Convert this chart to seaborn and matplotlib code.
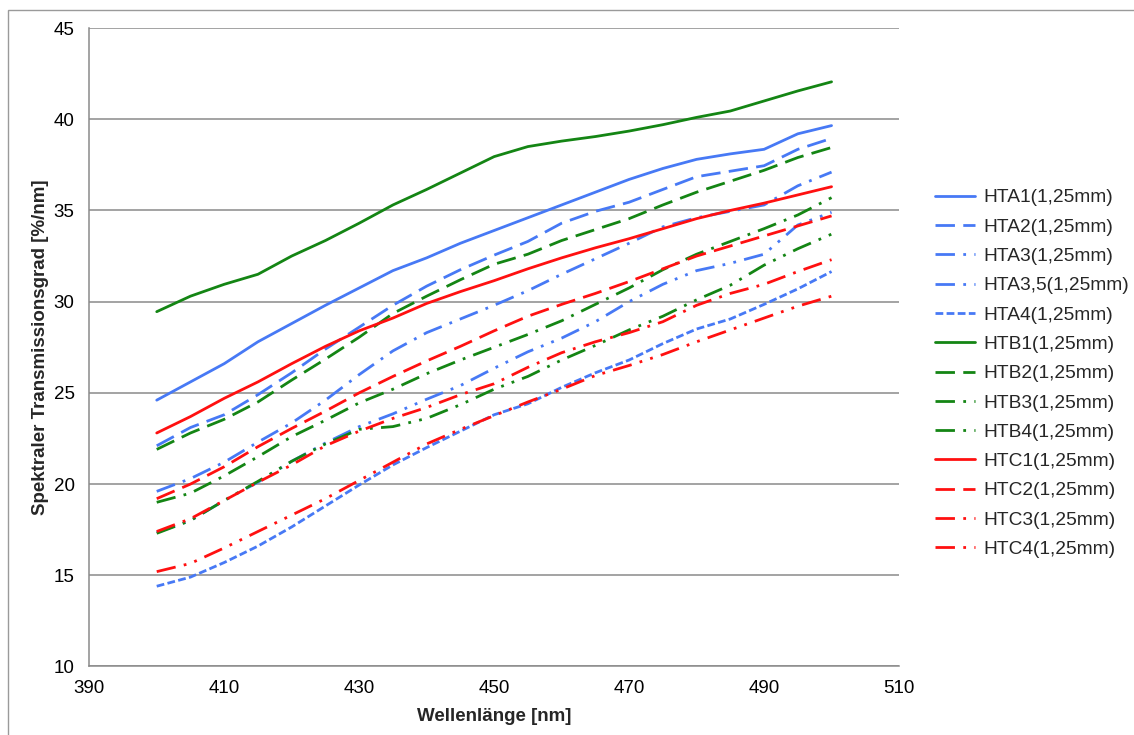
import numpy as np
import pandas as pd
import matplotlib
matplotlib.use("Agg")
import matplotlib.pyplot as plt
from matplotlib.patches import Rectangle
import seaborn as sns

# ---------------- data ----------------
wavelength = [400, 405, 410, 415, 420, 425, 430, 435, 440, 445, 450,
              455, 460, 465, 470, 475, 480, 485, 490, 495, 500]

HTA1 = [24.6, 25.6, 26.6, 27.8, 28.8, 29.8, 30.75, 31.7, 32.4, 33.2, 33.9,
        34.6, 35.3, 36.0, 36.7, 37.3, 37.8, 38.1, 38.35, 39.2, 39.65]
HTA2 = [22.1, 23.1, 23.8, 24.9, 26.1, 27.4, 28.6, 29.8, 30.85, 31.75, 32.55,
        33.3, 34.3, 34.95, 35.45, 36.15, 36.85, 37.15, 37.45, 38.35, 38.95]
HTA3 = [19.6, 20.3, 21.2, 22.3, 23.35, 24.6, 26.0, 27.3, 28.3, 29.05, 29.8,
        30.6, 31.5, 32.35, 33.2, 34.1, 34.6, 34.95, 35.3, 36.35, 37.1]
HTA35 = [17.35, 18.0, 19.1, 20.1, 21.25, 22.25, 23.15, 23.85, 24.65, 25.4, 26.35,
         27.25, 28.0, 28.9, 30.0, 30.95, 31.7, 32.1, 32.6, 34.2, 34.9]
HTA4 = [14.4, 14.9, 15.7, 16.6, 17.65, 18.8, 19.95, 21.05, 22.0, 22.9, 23.8,
        24.4, 25.3, 26.1, 26.8, 27.7, 28.5, 29.05, 29.85, 30.7, 31.65]
HTB1 = [29.45, 30.3, 30.95, 31.5, 32.5, 33.35, 34.3, 35.3, 36.15, 37.05, 37.95,
        38.5, 38.8, 39.05, 39.35, 39.7, 40.1, 40.45, 41.0, 41.55, 42.05]
HTB2 = [21.9, 22.8, 23.55, 24.5, 25.7, 26.85, 28.05, 29.35, 30.3, 31.2, 32.05,
        32.6, 33.35, 33.95, 34.55, 35.3, 36.0, 36.6, 37.2, 37.9, 38.45]
HTB3 = [19.0, 19.5, 20.45, 21.5, 22.6, 23.5, 24.45, 25.2, 26.05, 26.8, 27.5,
        28.2, 28.95, 29.85, 30.75, 31.75, 32.6, 33.3, 34.0, 34.75, 35.7]
HTB4 = [17.3, 18.0, 19.1, 20.15, 21.25, 22.2, 23.0, 23.15, 23.6, 24.35, 25.2,
        25.9, 26.8, 27.6, 28.45, 29.2, 30.1, 30.9, 32.0, 32.9, 33.7]
HTC1 = [22.8, 23.7, 24.7, 25.6, 26.6, 27.55, 28.4, 29.1, 29.9, 30.55, 31.15,
        31.8, 32.4, 32.95, 33.45, 34.0, 34.55, 35.0, 35.4, 35.85, 36.3]
HTC2 = [19.2, 20.0, 20.95, 22.05, 23.05, 24.0, 25.0, 25.9, 26.75, 27.55, 28.4,
        29.2, 29.85, 30.45, 31.1, 31.8, 32.5, 33.05, 33.6, 34.15, 34.7]
HTC3 = [17.4, 18.1, 19.1, 20.1, 21.05, 22.1, 22.9, 23.6, 24.2, 24.9, 25.5,
        26.4, 27.2, 27.8, 28.3, 28.9, 29.8, 30.45, 30.95, 31.65, 32.3]
HTC4 = [15.2, 15.65, 16.5, 17.4, 18.3, 19.2, 20.2, 21.2, 22.2, 23.0, 23.75,
        24.5, 25.2, 25.95, 26.5, 27.1, 27.8, 28.45, 29.1, 29.75, 30.3]

series_names = ["HTA1(1,25mm)", "HTA2(1,25mm)", "HTA3(1,25mm)", "HTA3,5(1,25mm)",
                "HTA4(1,25mm)", "HTB1(1,25mm)", "HTB2(1,25mm)", "HTB3(1,25mm)",
                "HTB4(1,25mm)", "HTC1(1,25mm)", "HTC2(1,25mm)", "HTC3(1,25mm)",
                "HTC4(1,25mm)"]
series_values = [HTA1, HTA2, HTA3, HTA35, HTA4, HTB1, HTB2, HTB3, HTB4,
                 HTC1, HTC2, HTC3, HTC4]

x_ticks = [390, 410, 430, 450, 470, 490, 510]
y_ticks = [10, 15, 20, 25, 30, 35, 40, 45]

# ---------------- styles ----------------
BLUE = "#4779f5"
GREEN = "#148514"
RED = "#ff1010"
solid = ""
long_dash = (7, 3)
dash_dot = (7, 3, 1, 3)
dash_dot_dot = (7, 3, 1, 3, 1, 3)
short_dash = (2.8, 1.2)

colors = [BLUE] * 5 + [GREEN] * 4 + [RED] * 4
dash_list = [solid, long_dash, dash_dot, dash_dot_dot, short_dash,
             solid, long_dash, dash_dot, dash_dot_dot,
             solid, long_dash, dash_dot, dash_dot_dot]
palette = dict(zip(series_names, colors))
dashes = dict(zip(series_names, dash_list))

rows = []
for name, vals in zip(series_names, series_values):
    for w, v in zip(wavelength, vals):
        rows.append({"Wellenlänge": w, "Wert": v, "Serie": name})
df = pd.DataFrame(rows)

# ---------------- figure ----------------
sns.set_theme(style="white")
plt.rcParams["font.family"] = ["Liberation Sans", "DejaVu Sans"]

fig = plt.figure(figsize=(11.34, 7.35), dpi=100)
ax = fig.add_axes([0.0787, 0.0932, 0.7141, 0.8687])

sns.lineplot(data=df, x="Wellenlänge", y="Wert", hue="Serie", style="Serie",
             hue_order=series_names, style_order=series_names,
             palette=palette, dashes=dashes, linewidth=2.0, ax=ax,
             sort=True, estimator=None)

GRID = "#8a8a8a"
ax.set_xlim(390, 510)
ax.set_ylim(10, 45)
ax.set_xticks(x_ticks)
ax.set_yticks(y_ticks)
ax.yaxis.grid(True, color=GRID, linewidth=1.1)
ax.xaxis.grid(False)
ax.set_axisbelow(True)
for s in ["top", "right"]:
    ax.spines[s].set_visible(False)
for s in ["left", "bottom"]:
    ax.spines[s].set_color(GRID)
    ax.spines[s].set_linewidth(1.1)
ax.tick_params(axis="both", direction="out", color=GRID, width=1.1,
               labelsize=13.5, labelcolor="black")
ax.tick_params(axis="y", length=4.5, pad=6)
ax.tick_params(axis="x", length=4, pad=6)

ax.set_xlabel("Wellenlänge [nm]", fontsize=13.5, fontweight="bold", labelpad=8)
ax.set_ylabel("Spektraler Transmissionsgrad [%/nm]", fontsize=13.5,
              fontweight="bold", labelpad=3)

handles, labels = ax.get_legend_handles_labels()
ax.legend(handles, labels, loc="center left",
          bbox_to_anchor=(0.8245, 0.4918), bbox_transform=fig.transFigure,
          frameon=False, fontsize=13.8, handlelength=2.1, handletextpad=0.45,
          labelspacing=0.62, borderpad=0, borderaxespad=0)

# outer chart border
fig.patches.append(Rectangle((8 / 1134, -0.1), 2.0, 1.1 - 10 / 735,
                             transform=fig.transFigure, fill=False,
                             edgecolor="#9a9a9a", linewidth=1.0))

fig.savefig("out.png", dpi=100)
